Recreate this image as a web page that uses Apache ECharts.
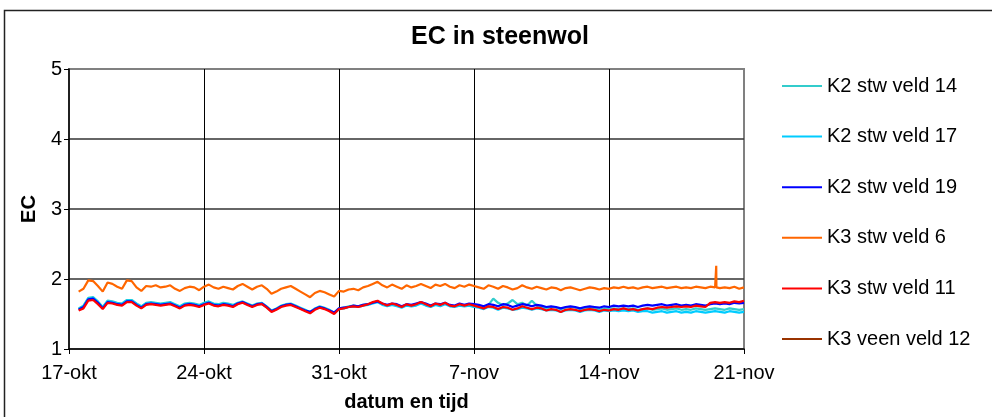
<!DOCTYPE html>
<html>
<head>
<meta charset="utf-8">
<title>EC in steenwol</title>
<script src="https://cdn.jsdelivr.net/npm/echarts@6/dist/echarts.min.js"></script>
<style>
  html, body { margin: 0; padding: 0; background: #ffffff; }
  #chart { width: 992px; height: 417px; }
</style>
</head>
<body>
<div id="chart"></div>
<script>
// Tick labels of the date axis (one per week, starting 17-okt)
const xTickLabels = ['17-okt', '24-okt', '31-okt', '7-nov', '14-nov', '21-nov'];
const yTicks = [1, 2, 3, 4, 5];

// Readings every 6 hours, first one at 17-okt 12:00 (day 0.5), last at 21-nov 00:00 (day 35)
const firstDay = 0.5;
const stepDays = 0.25;

const seriesNames = ['K2 stw veld 14', 'K2 stw veld 17', 'K2 stw veld 19',
                     'K3 stw veld 6', 'K3 stw veld 11', 'K3 veen veld 12'];

const k2Veld14 = [
  1.58, 1.62,
  1.73, 1.74, 1.68, 1.60,  1.69, 1.68, 1.66, 1.65,  1.70, 1.70, 1.65, 1.61,
  1.66, 1.67, 1.66, 1.65,  1.66, 1.67, 1.64, 1.61,  1.65, 1.66, 1.65, 1.63,
  1.66, 1.68, 1.65, 1.64,  1.66, 1.65, 1.63, 1.66,  1.68, 1.65, 1.62, 1.65,
  1.66, 1.61, 1.55, 1.58,  1.62, 1.64, 1.65, 1.62,  1.59, 1.56, 1.53, 1.58,
  1.61, 1.59, 1.56, 1.52,  1.58, 1.59, 1.61, 1.62,  1.61, 1.63, 1.64, 1.66,
  1.68, 1.64, 1.62, 1.64,  1.62, 1.60, 1.63, 1.62,  1.63, 1.66, 1.63, 1.61,
  1.64, 1.62, 1.65, 1.62,  1.61, 1.63, 1.62, 1.63,  1.62, 1.61, 1.60, 1.63,
  1.72, 1.66, 1.63, 1.65,  1.70, 1.64, 1.66, 1.62,  1.69, 1.62, 1.60, 1.58,
  1.60, 1.59, 1.57, 1.59,  1.60, 1.59, 1.57, 1.58,  1.59, 1.58, 1.56, 1.58,
  1.57, 1.58, 1.57, 1.58,  1.57, 1.58, 1.56, 1.57,  1.58, 1.56, 1.57, 1.58,
  1.56, 1.57, 1.58, 1.56,  1.57, 1.56, 1.58, 1.57,  1.56, 1.57, 1.58, 1.57,
  1.56, 1.58, 1.57, 1.56,
  1.57
];

const k2Veld17 = [
  1.57, 1.61,
  1.72, 1.73, 1.67, 1.59,  1.68, 1.67, 1.65, 1.64,  1.69, 1.69, 1.64, 1.60,
  1.65, 1.66, 1.65, 1.64,  1.65, 1.66, 1.63, 1.60,  1.64, 1.65, 1.64, 1.62,
  1.65, 1.67, 1.64, 1.63,  1.65, 1.64, 1.62, 1.65,  1.67, 1.64, 1.61, 1.64,
  1.65, 1.60, 1.54, 1.57,  1.61, 1.63, 1.64, 1.61,  1.58, 1.55, 1.52, 1.57,
  1.60, 1.58, 1.55, 1.51,  1.57, 1.58, 1.60, 1.61,  1.60, 1.62, 1.63, 1.65,
  1.67, 1.63, 1.61, 1.63,  1.61, 1.59, 1.62, 1.61,  1.62, 1.65, 1.62, 1.60,
  1.63, 1.61, 1.64, 1.61,  1.60, 1.62, 1.61, 1.62,  1.60, 1.59, 1.57, 1.60,
  1.59, 1.56, 1.59, 1.58,  1.56, 1.57, 1.59, 1.58,  1.56, 1.58, 1.57, 1.55,
  1.56, 1.55, 1.53, 1.55,  1.56, 1.55, 1.53, 1.55,  1.56, 1.55, 1.53, 1.55,
  1.54, 1.55, 1.54, 1.55,  1.54, 1.55, 1.53, 1.54,  1.54, 1.52, 1.53, 1.54,
  1.52, 1.53, 1.54, 1.52,  1.53, 1.52, 1.54, 1.53,  1.52, 1.53, 1.54, 1.53,
  1.52, 1.54, 1.53, 1.52,
  1.53
];

const k2Veld19 = [
  1.56, 1.60,
  1.71, 1.72, 1.66, 1.58,  1.67, 1.66, 1.64, 1.63,  1.68, 1.68, 1.63, 1.59,
  1.64, 1.65, 1.64, 1.63,  1.64, 1.65, 1.62, 1.59,  1.63, 1.64, 1.63, 1.61,
  1.64, 1.66, 1.63, 1.62,  1.64, 1.63, 1.61, 1.65,  1.67, 1.64, 1.61, 1.64,
  1.65, 1.60, 1.54, 1.57,  1.61, 1.63, 1.64, 1.61,  1.58, 1.55, 1.53, 1.57,
  1.60, 1.58, 1.55, 1.52,  1.58, 1.59, 1.60, 1.62,  1.61, 1.63, 1.64, 1.66,
  1.68, 1.65, 1.63, 1.65,  1.64, 1.61, 1.64, 1.63,  1.65, 1.67, 1.65, 1.62,
  1.65, 1.64, 1.66, 1.63,  1.62, 1.65, 1.63, 1.65,  1.64, 1.63, 1.61, 1.64,
  1.63, 1.61, 1.64, 1.63,  1.60, 1.62, 1.64, 1.63,  1.61, 1.63, 1.62, 1.60,
  1.61, 1.60, 1.58, 1.60,  1.61, 1.60, 1.58, 1.60,  1.61, 1.60, 1.59, 1.61,
  1.60, 1.62, 1.61, 1.62,  1.61, 1.62, 1.60, 1.62,  1.63, 1.62, 1.63, 1.64,
  1.62, 1.63, 1.64, 1.62,  1.63, 1.62, 1.64, 1.63,  1.62, 1.64, 1.65, 1.64,
  1.65, 1.64, 1.66, 1.65,
  1.66
];

const k3Veld6 = [
  1.82, 1.86,
  1.98, 1.97, 1.90, 1.82,  1.95, 1.93, 1.89, 1.86,  1.98, 1.97, 1.88, 1.83,
  1.90, 1.89, 1.91, 1.88,  1.89, 1.91, 1.86, 1.83,  1.87, 1.89, 1.88, 1.84,
  1.89, 1.92, 1.88, 1.86,  1.89, 1.87, 1.85, 1.90,  1.93, 1.89, 1.85, 1.89,
  1.91, 1.86, 1.79, 1.82,  1.86, 1.88, 1.90, 1.86,  1.82, 1.78, 1.74, 1.80,
  1.83, 1.81, 1.78, 1.75,  1.83, 1.82, 1.85, 1.86,  1.84, 1.88, 1.90, 1.93,
  1.96, 1.91, 1.88, 1.92,  1.89, 1.86, 1.91, 1.88,  1.90, 1.93, 1.90, 1.87,
  1.92, 1.90, 1.93, 1.89,  1.87, 1.91, 1.89, 1.92,  1.90, 1.88, 1.86, 1.91,
  1.89, 1.86, 1.90, 1.88,  1.85, 1.87, 1.91, 1.88,  1.86, 1.89, 1.87, 1.85,
  1.88, 1.87, 1.84, 1.87,  1.88, 1.86, 1.84, 1.86,  1.88, 1.87, 1.85, 1.87,
  1.86, 1.88, 1.87, 1.89,  1.87, 1.88, 1.86, 1.88,  1.89, 1.87, 1.88, 1.89,
  1.87, 1.88, 1.89, 1.87,  1.88, 1.87, 1.89, 1.88,  1.87, 1.89, 1.88, 1.87,
  1.88, 1.87, 1.89, 1.86,
  1.88
];
// short-lived sensor spike on 20-nov
const k3Veld6SpikeDays = [33.55, 33.56, 33.57];
const k3Veld6SpikeValues = [1.88, 2.19, 1.88];

const k3Veld11 = [
  1.55, 1.58,
  1.69, 1.70, 1.64, 1.57,  1.66, 1.65, 1.63, 1.62,  1.67, 1.67, 1.62, 1.58,
  1.63, 1.64, 1.63, 1.62,  1.63, 1.64, 1.61, 1.58,  1.62, 1.63, 1.62, 1.60,
  1.63, 1.65, 1.62, 1.61,  1.63, 1.62, 1.60, 1.64,  1.66, 1.63, 1.60, 1.63,
  1.64, 1.59, 1.53, 1.56,  1.60, 1.62, 1.63, 1.60,  1.57, 1.54, 1.51, 1.56,
  1.59, 1.57, 1.54, 1.50,  1.57, 1.58, 1.60, 1.61,  1.60, 1.62, 1.64, 1.67,
  1.69, 1.65, 1.62, 1.65,  1.63, 1.60, 1.64, 1.62,  1.64, 1.67, 1.64, 1.61,
  1.65, 1.63, 1.66, 1.62,  1.61, 1.64, 1.62, 1.64,  1.62, 1.60, 1.58, 1.61,
  1.60, 1.57, 1.60, 1.59,  1.56, 1.58, 1.61, 1.59,  1.57, 1.59, 1.58, 1.55,
  1.57, 1.56, 1.53, 1.56,  1.57, 1.56, 1.54, 1.56,  1.57, 1.56, 1.54, 1.56,
  1.55, 1.57, 1.56, 1.58,  1.56, 1.57, 1.55, 1.57,  1.58, 1.57, 1.59, 1.60,
  1.59, 1.60, 1.61, 1.60,  1.61, 1.60, 1.62, 1.61,  1.60, 1.66, 1.67, 1.66,
  1.67, 1.66, 1.68, 1.67,
  1.69
];

// no readings logged for this sensor in this period
const k3VeenVeld12 = [];

const seriesValues = [k2Veld14, k2Veld17, k2Veld19, k3Veld6, k3Veld11, k3VeenVeld12];
const seriesColors = ['#33CCCC', '#00CCFF', '#0000FF', '#FF6600', '#FF0000', '#993300'];

function toPoints(values) {
  return values.map((v, i) => [firstDay + i * stepDays, v]);
}

function withSpike(points, days, values) {
  const extra = days.map((d, i) => [d, values[i]]);
  return points.concat(extra).sort((a, b) => a[0] - b[0]);
}

const seriesData = seriesValues.map(toPoints);
seriesData[3] = withSpike(seriesData[3], k3Veld6SpikeDays, k3Veld6SpikeValues);

const font = "'Liberation Sans', Arial, Helvetica, sans-serif";
const chart = echarts.init(document.getElementById('chart'), null, { renderer: 'canvas' });

chart.setOption({
  animation: false,
  backgroundColor: '#ffffff',
  textStyle: { fontFamily: font, color: '#000' },
  graphic: [{
    type: 'rect',
    silent: true,
    z: -10,
    shape: { x: 4.5, y: 10.5, width: 1100, height: 600 },
    style: { fill: 'none', stroke: '#222', lineWidth: 1.5 }
  }],
  title: {
    text: 'EC in steenwol',
    left: 500,
    textAlign: 'center',
    top: 25,
    padding: 0,
    textStyle: { fontFamily: font, fontSize: 25, fontWeight: 'bold', color: '#000' }
  },
  legend: {
    orient: 'vertical',
    left: 782,
    top: 75,
    padding: 0,
    icon: 'rect',
    itemWidth: 40,
    itemHeight: 2,
    itemGap: 28.6,
    textStyle: { fontFamily: font, fontSize: 20, lineHeight: 22, color: '#000' },
    data: seriesNames
  },
  grid: {
    left: 69, right: 248, top: 69, bottom: 63,
    show: true,
    borderColor: '#808080',
    borderWidth: 2,
    backgroundColor: '#ffffff'
  },
  xAxis: {
    type: 'value',
    min: 0,
    max: 35,
    interval: 7,
    name: 'datum en tijd',
    nameLocation: 'middle',
    nameGap: 43,
    nameTextStyle: { fontFamily: font, fontSize: 20, fontWeight: 'bold', color: '#000' },
    axisLine: { onZero: false, lineStyle: { color: '#000', width: 1.5 } },
    axisTick: { show: true, inside: false, length: 5, lineStyle: { color: '#000' } },
    axisLabel: {
      margin: 14,
      fontFamily: font, fontSize: 20, color: '#000',
      formatter: v => xTickLabels[Math.round(v / 7)]
    },
    splitLine: { show: true, showMinLine: false, showMaxLine: false, lineStyle: { color: '#000', width: 1 } }
  },
  yAxis: {
    type: 'value',
    min: 1,
    max: 5,
    interval: 1,
    name: 'EC',
    nameLocation: 'middle',
    nameRotate: 90,
    nameGap: 29,
    nameTextStyle: { fontFamily: font, fontSize: 20, fontWeight: 'bold', color: '#000' },
    axisLine: { show: true, lineStyle: { color: '#000', width: 1.5 } },
    axisTick: { show: true, inside: false, length: 5, lineStyle: { color: '#000' } },
    axisLabel: {
      margin: 7,
      fontFamily: font, fontSize: 20, color: '#000',
      formatter: v => (yTicks.indexOf(v) >= 0 ? String(v) : '')
    },
    splitLine: { show: true, showMinLine: false, showMaxLine: false, lineStyle: { color: '#333', width: 1.5 } }
  },
  series: seriesNames.map((name, i) => ({
    name: name,
    type: 'line',
    data: seriesData[i],
    showSymbol: false,
    symbol: 'none',
    color: seriesColors[i],
    lineStyle: { color: seriesColors[i], width: 2.2 },
    emphasis: { disabled: true },
    z: 2 + i
  }))
});
</script>
</body>
</html>
